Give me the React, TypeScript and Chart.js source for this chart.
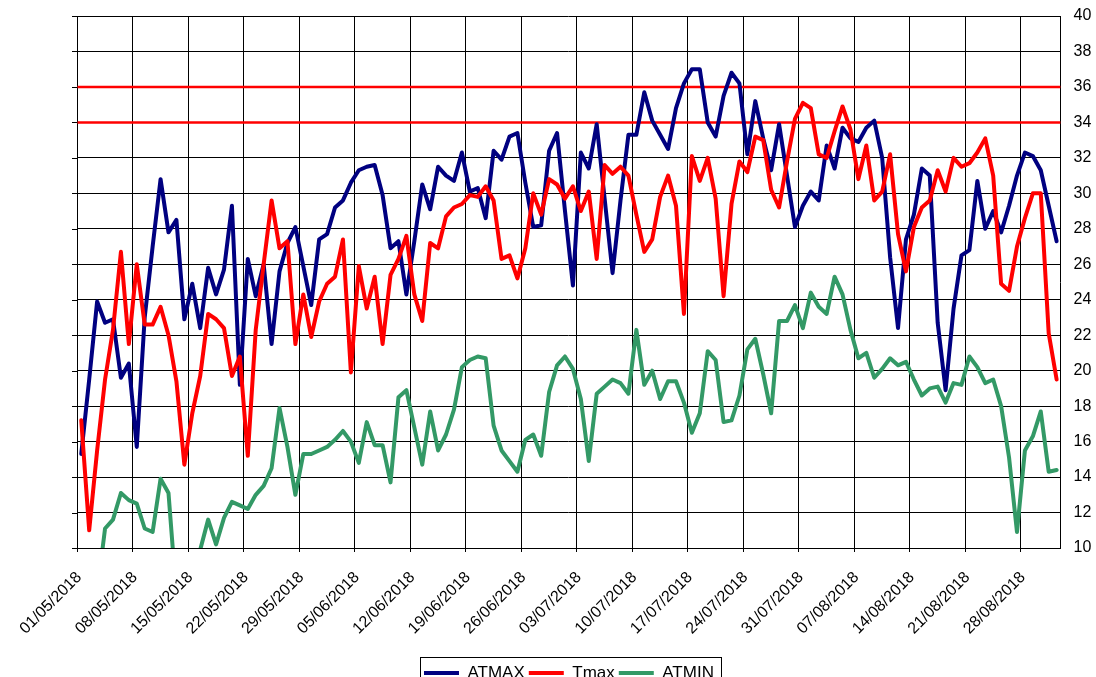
import React, { useEffect, useRef } from 'react';
import { Chart, registerables } from 'chart.js';

Chart.register(...registerables);

// Axis covers 01/05/2018 .. 02/09/2018 (124 days); each point sits mid-day.
const DAY_COUNT = 124;
const WEEK = 7;

const X_TICK_LABELS = [
  '01/05/2018', '08/05/2018', '15/05/2018', '22/05/2018', '29/05/2018', '05/06/2018',
  '12/06/2018', '19/06/2018', '26/06/2018', '03/07/2018', '10/07/2018', '17/07/2018',
  '24/07/2018', '31/07/2018', '07/08/2018', '14/08/2018', '21/08/2018', '28/08/2018',
];

const ATMAX = [
  15.3, 19.5, 23.9, 22.7, 22.9, 19.6, 20.4, 15.7, 23.0, 27.0, 30.8, 27.8, 28.5, 22.9, 24.9, 22.4,
  25.8, 24.3, 25.7, 29.3, 19.2, 26.3, 24.2, 26.0, 21.5, 25.6, 27.2, 28.1, 25.9, 23.7, 27.4, 27.7,
  29.2, 29.6, 30.6, 31.3, 31.5, 31.6, 29.9, 26.9, 27.3, 24.3, 27.3, 30.5, 29.1, 31.5, 31.0, 30.7,
  32.3, 30.1, 30.3, 28.6, 32.4, 31.9, 33.2, 33.4, 30.6, 28.1, 28.2, 32.4, 33.4, 29.0, 24.8, 32.3,
  31.4, 33.9, 29.7, 25.5, 29.6, 33.3, 33.3, 35.7, 34.1, 33.3, 32.5, 34.8, 36.2, 37.0, 37.0, 34.0,
  33.2, 35.5, 36.8, 36.2, 32.2, 35.2, 33.1, 31.3, 33.9, 31.0, 28.1, 29.3, 30.1, 29.6, 32.7, 31.4,
  33.7, 33.1, 32.9, 33.7, 34.1, 32.0, 26.4, 22.4, 27.4, 28.8, 31.4, 31.0, 22.7, 18.9, 23.5, 26.5,
  26.8, 30.7, 28.0, 29.0, 27.8, 29.3, 31.0, 32.3, 32.1, 31.3, 29.3, 27.3,
];

const TMAX = [
  17.2, 11.0, 15.5, 19.5, 22.3, 26.7, 21.5, 26.0, 22.6, 22.6, 23.6, 22.0, 19.4, 14.7, 17.6, 19.7,
  23.2, 22.9, 22.4, 19.7, 20.8, 15.2, 22.3, 26.0, 29.6, 26.9, 27.3, 21.5, 24.3, 21.9, 23.9, 24.9,
  25.3, 27.4, 19.9, 25.9, 23.5, 25.3, 21.5, 25.4, 26.3, 27.6, 24.3, 22.8, 27.2, 26.9, 28.7, 29.2,
  29.4, 29.9, 29.8, 30.4, 29.6, 26.3, 26.5, 25.2, 26.9, 30.0, 28.8, 30.8, 30.5, 29.7, 30.4, 29.0,
  30.1, 26.3, 31.6, 31.1, 31.5, 31.0, 28.8, 26.7, 27.4, 29.8, 31.0, 29.3, 23.2, 32.1, 30.7, 32.0,
  29.7, 24.2, 29.4, 31.8, 31.2, 33.2, 33.0, 30.2, 29.2, 31.8, 34.2, 35.1, 34.8, 32.2, 32.0, 33.5,
  34.9, 33.6, 30.8, 32.7, 29.6, 30.1, 32.2, 27.7, 25.6, 28.1, 29.2, 29.6, 31.3, 30.1, 32.0, 31.5,
  31.7, 32.3, 33.1, 31.0, 24.9, 24.5, 27.0, 28.6, 30.0, 30.0, 22.1, 19.5,
];

const ATMIN = [
  8.0, 7.8, 7.5, 11.1, 11.6, 13.1, 12.7, 12.5, 11.1, 10.9, 13.9, 13.1, 7.3, 7.0, 8.0, 9.9,
  11.6, 10.2, 11.7, 12.6, 12.4, 12.2, 13.0, 13.5, 14.5, 17.9, 15.7, 13.0, 15.3, 15.3, 15.5, 15.7,
  16.1, 16.6, 16.0, 14.8, 17.1, 15.8, 15.8, 13.7, 18.5, 18.9, 16.8, 14.7, 17.7, 15.5, 16.4, 17.8,
  20.2, 20.6, 20.8, 20.7, 16.9, 15.5, 14.9, 14.3, 16.1, 16.4, 15.2, 18.8, 20.3, 20.8, 20.1, 18.4,
  14.9, 18.7, 19.1, 19.5, 19.3, 18.7, 22.3, 19.2, 20.0, 18.4, 19.4, 19.4, 18.2, 16.5, 17.6, 21.1,
  20.6, 17.1, 17.2, 18.6, 21.2, 21.8, 19.8, 17.6, 22.8, 22.8, 23.7, 22.4, 24.4, 23.6, 23.2, 25.3,
  24.3, 22.3, 20.7, 21.0, 19.6, 20.1, 20.7, 20.3, 20.5, 19.5, 18.6, 19.0, 19.1, 18.2, 19.3, 19.2,
  20.8, 20.2, 19.3, 19.5, 18.0, 15.1, 10.9, 15.5, 16.3, 17.7, 14.3, 14.4,
];

const THRESHOLDS = [34, 36];

const Y_MIN = 10;
const Y_MAX = 40;
const Y_STEP = 2;

const FONT = "'Liberation Sans', Arial, sans-serif";
const C_ATMAX = '#000080';
const C_TMAX = '#FF0000';
const C_ATMIN = '#339966';

const toPoints = (arr: number[]) => arr.map((v, i) => ({ x: i + 0.5, y: v }));

const leftTicksPlugin = {
  id: 'leftTicks',
  afterDraw(chart: any) {
    const { ctx, chartArea, scales } = chart;
    const y = scales.y;
    ctx.save();
    ctx.strokeStyle = '#000';
    ctx.lineWidth = 1;
    y.ticks.forEach((t: any) => {
      const py = Math.round(y.getPixelForValue(t.value)) + 0.5;
      ctx.beginPath();
      ctx.moveTo(Math.round(chartArea.left) - 5, py);
      ctx.lineTo(Math.round(chartArea.left), py);
      ctx.stroke();
    });
    ctx.restore();
  },
};

const legendBorderPlugin = {
  id: 'legendBorder',
  afterDraw(chart: any) {
    const lg = chart.legend;
    if (!lg || !lg.legendHitBoxes || !lg.legendHitBoxes.length) return;
    const hb = lg.legendHitBoxes;
    const left = Math.round(hb[0].left - 4) + 0.5;
    const last = hb[hb.length - 1];
    const right = Math.round(last.left + last.width + 7) + 0.5;
    const top = Math.round(lg.top - 3.5) + 0.5;
    const { ctx } = chart;
    ctx.save();
    ctx.strokeStyle = '#000';
    ctx.lineWidth = 1;
    ctx.strokeRect(left, top, right - left, 80);
    ctx.restore();
  },
};

export default function App() {
  const ref = useRef<HTMLCanvasElement | null>(null);

  useEffect(() => {
    if (!ref.current) return;
    const lineBase = {
      type: 'line' as const,
      pointRadius: 0,
      borderWidth: 4,
      tension: 0,
      borderJoinStyle: 'round' as const,
      borderCapStyle: 'round' as const,
      clip: 0,
      fill: false,
    };
    const chart = new Chart(ref.current, {
      type: 'line',
      data: {
        datasets: [
          { ...lineBase, label: 'ATMAX', data: toPoints(ATMAX), borderColor: C_ATMAX, backgroundColor: C_ATMAX, order: 2 },
          { ...lineBase, label: 'Tmax', data: toPoints(TMAX), borderColor: C_TMAX, backgroundColor: C_TMAX, order: 1 },
          { ...lineBase, label: 'ATMIN', data: toPoints(ATMIN), borderColor: C_ATMIN, backgroundColor: C_ATMIN, order: 0 },
          ...THRESHOLDS.map((t) => ({
            ...lineBase,
            label: 'seuil ' + t,
            data: [{ x: 0, y: t }, { x: DAY_COUNT, y: t }],
            borderColor: '#FF0000',
            backgroundColor: '#FF0000',
            borderWidth: 2.5,
            borderCapStyle: 'butt' as const,
            order: 3,
          })),
        ],
      },
      options: {
        responsive: false,
        animation: false,
        events: [],
        layout: { padding: { left: 77.3, top: 16, right: 0, bottom: 8.5 } },
        plugins: {
          legend: {
            position: 'bottom',
            fullSize: false,
            labels: {
              boxWidth: 35,
              boxHeight: 4,
              padding: 4,
              color: '#000',
              font: { family: FONT, size: 17 },
              filter: (item: any) => item.datasetIndex < 3,
              sort: (a: any, b: any) => a.datasetIndex - b.datasetIndex,
              generateLabels: (chart: any) => {
                const items = Chart.defaults.plugins.legend.labels.generateLabels(chart);
                return items.map((it: any) => ({ ...it, fillStyle: it.strokeStyle, lineWidth: 0 }));
              },
            },
          },
          tooltip: { enabled: false },
        },
        scales: {
          x: {
            type: 'linear',
            min: 0,
            max: DAY_COUNT,
            afterBuildTicks: (scale: any) => {
              scale.ticks = X_TICK_LABELS.map((_, k) => ({ value: k * WEEK }));
            },
            afterFit: (scale: any) => {
              scale.height = 112.5;
            },
            ticks: {
              autoSkip: false,
              minRotation: 45,
              maxRotation: 45,
              padding: 16,
              labelOffset: 2,
              color: '#000',
              font: { family: FONT, size: 16 },
              callback: (value: any) => X_TICK_LABELS[Math.round(Number(value) / WEEK)] ?? '',
            },
            grid: { color: '#000', lineWidth: 1, drawTicks: true, tickLength: 4 },
            border: { display: true, color: '#000', width: 1 },
          },
          y: {
            type: 'linear',
            position: 'right',
            min: Y_MIN,
            max: Y_MAX,
            afterFit: (scale: any) => {
              scale.width = 35.4;
              scale.paddingTop = 0;
              scale.paddingBottom = 0;
            },
            ticks: {
              stepSize: Y_STEP,
              padding: 13,
              color: '#000',
              font: { family: FONT, size: 16 },
            },
            grid: { color: '#000', lineWidth: 1, drawTicks: false },
            border: { display: true, color: '#000', width: 1 },
          },
        },
      },
      plugins: [leftTicksPlugin, legendBorderPlugin],
    } as any);
    return () => chart.destroy();
  }, []);

  return (
    <div style={{ position: 'fixed', left: 0, top: 0, width: 1096, height: 677, overflow: 'hidden', background: '#fff' }}>
      <canvas ref={ref} width={1096} height={700} style={{ display: 'block' }} />
    </div>
  );
}
